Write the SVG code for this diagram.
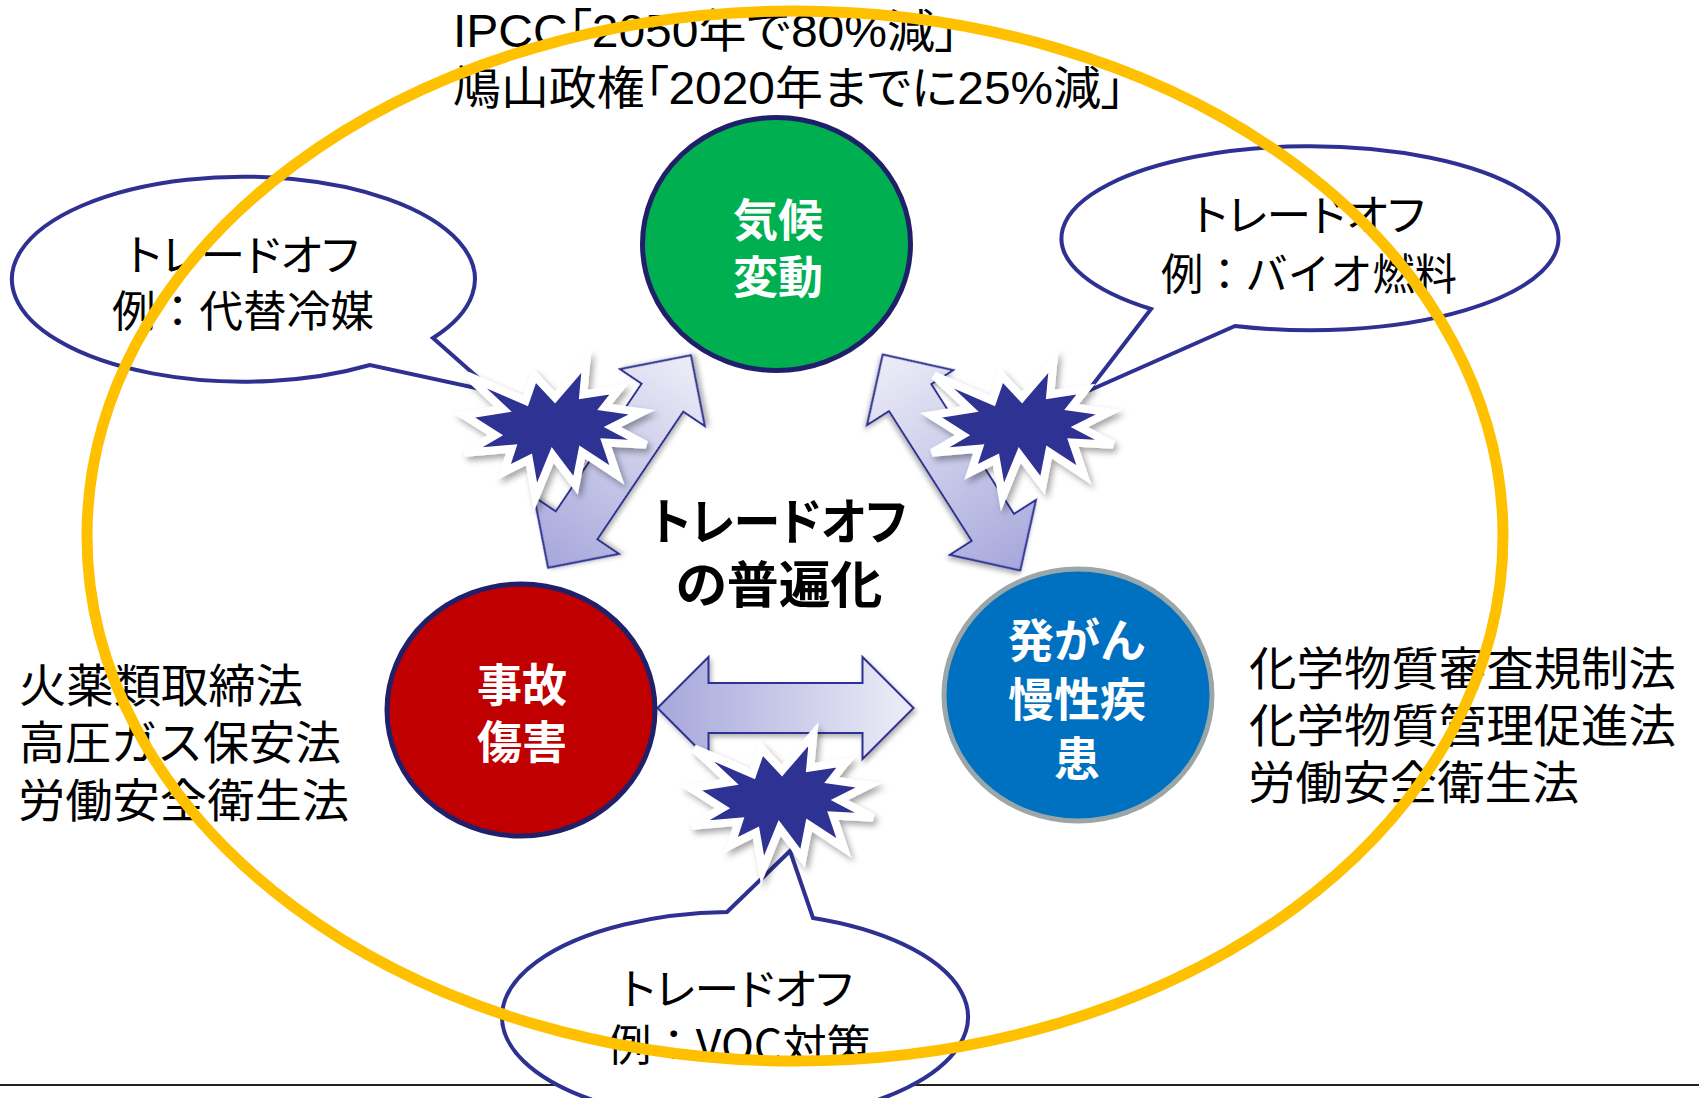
<svg xmlns="http://www.w3.org/2000/svg" xmlns:xlink="http://www.w3.org/1999/xlink" width="1699" height="1098" viewBox="0 0 1699 1098">
<style>
.t{font-family:"Noto Sans CJK JP","Liberation Sans",sans-serif;fill:#000}
.lat{font-family:"Liberation Sans","Noto Sans CJK JP",sans-serif;fill:#000}
.p{font-feature-settings:"palt" 1}
.w{fill:#fff;font-weight:700;text-anchor:middle}
.m{text-anchor:middle}
.bub{fill:#fff;stroke:#2E3192;stroke-width:4;stroke-linejoin:miter}
.arr{stroke:#2E3192;stroke-width:2;filter:url(#sh)}
.burst{fill:#2E3192;stroke:#fff;stroke-width:8;filter:url(#sh2)}
</style>
<defs>
<filter id="sh" x="-20%" y="-20%" width="140%" height="140%"><feDropShadow dx="2" dy="3" stdDeviation="2.5" flood-color="#000" flood-opacity="0.3"/></filter>
<filter id="sh2" x="-20%" y="-20%" width="140%" height="140%"><feDropShadow dx="3" dy="4" stdDeviation="3" flood-color="#000" flood-opacity="0.35"/></filter>
<linearGradient id="gA" x1="0" y1="0" x2="1" y2="0"><stop offset="0" stop-color="#A6A7DB"/><stop offset="1" stop-color="#EDEDF8"/></linearGradient>
<linearGradient id="gB" x1="0" y1="0" x2="1" y2="0"><stop offset="0" stop-color="#EDEDF8"/><stop offset="1" stop-color="#A6A7DB"/></linearGradient>
<path id="dbl" d="M-128,0 L-77,-51 L-77,-25 L77,-25 L77,-51 L128,0 L77,51 L77,25 L-77,25 L-77,51 Z"/>
<path id="seal" d="M91,36.5 L122.4,0 L119.3,33.5 L154.9,28.1 L140.7,46.1 L177.8,51.2 L148.4,66 L182,83.7 L141.9,81.5 L152.9,113.9 L118.1,91 L111.6,124.3 L88.7,94 L71.5,136 L65,98.4 L40.1,110.9 L47.7,87.8 L1.1,91.8 L31.4,74.1 L0,54.2 L39,48 L3.1,14.5 L61.6,39.8 L70.4,14.5 Z"/>
</defs>
<rect width="1699" height="1098" fill="#fff"/>
<g id="bottom-rule"><line x1="0" y1="1085" x2="1699" y2="1085" stroke="#222" stroke-width="2"/></g>

<g id="bubble-left">
<path class="bub" d="M433,338 L494,392 L370,365 A231.5,102.5 0 1 1 433,338 Z"/>
<text class="t m p" x="243" y="271" font-size="43" textLength="232" lengthAdjust="spacingAndGlyphs">トレードオフ</text>
<text class="t m" x="243" y="327" font-size="43" textLength="262" lengthAdjust="spacingAndGlyphs">例：代替冷媒</text>
</g>
<g id="bubble-right">
<path class="bub" d="M1151,309 L1088,391 L1235,326 A248.5,92 0 1 0 1151,309 Z"/>
<text class="t m p" x="1309" y="231" font-size="43" textLength="232" lengthAdjust="spacingAndGlyphs">トレードオフ</text>
<text class="t m" x="1309" y="290" font-size="43" textLength="296" lengthAdjust="spacingAndGlyphs">例：バイオ燃料</text>
</g>
<g id="bubble-bottom">
<path class="bub" d="M727,912 L790,851 L813,918 A233,105 0 1 1 727,912 Z"/>
<text class="t m p" x="737" y="1005" font-size="43" textLength="232" lengthAdjust="spacingAndGlyphs">トレードオフ</text>
<text class="t m" x="739" y="1061" font-size="43" textLength="264" lengthAdjust="spacingAndGlyphs">例：VOC対策</text>
</g>

<g id="connectors">
<use xlink:href="#dbl" class="arr" fill="url(#gA)" transform="translate(619.5,461.5) rotate(-56.1)"/>
<use xlink:href="#dbl" class="arr" fill="url(#gB)" transform="translate(951.5,462.5) rotate(57.5)"/>
<use xlink:href="#dbl" class="arr" fill="url(#gA)" transform="translate(785.5,708)"/>
</g>

<g id="node-climate">
<ellipse cx="776.5" cy="244" rx="134" ry="126.5" fill="#00B050" stroke="#20206A" stroke-width="5"/>
<text class="t w" x="778" y="237" font-size="45">気候</text>
<text class="t w" x="778" y="294" font-size="45">変動</text>
</g>
<g id="node-accident">
<ellipse cx="521" cy="710" rx="134" ry="126" fill="#C00000" stroke="#20206A" stroke-width="5"/>
<text class="t w" x="522" y="702" font-size="45">事故</text>
<text class="t w" x="522" y="759" font-size="45">傷害</text>
</g>
<g id="node-cancer">
<ellipse cx="1078" cy="695" rx="134" ry="126" fill="#0070C0" stroke="#9AA6A8" stroke-width="5"/>
<text class="t w" x="1077" y="657" font-size="46">発がん</text>
<text class="t w" x="1077" y="716" font-size="46">慢性疾</text>
<text class="t w" x="1077" y="775" font-size="46">患</text>
</g>

<g id="burst-left"><use xlink:href="#seal" class="burst" transform="translate(464,361)"/></g>
<g id="burst-right"><use xlink:href="#seal" class="burst" transform="translate(931,361)"/></g>
<g id="burst-bottom"><use xlink:href="#seal" class="burst" transform="translate(691,734)"/></g>

<g id="center-label">
<text class="t m p" x="779" y="540" font-size="50" font-weight="700" textLength="256" lengthAdjust="spacingAndGlyphs">トレードオフ</text>
<text class="t m p" x="779" y="603" font-size="50" font-weight="700" textLength="207" lengthAdjust="spacingAndGlyphs">の普遍化</text>
</g>

<g id="top-text">
<text class="lat p" x="453" y="47" font-size="46" textLength="506" lengthAdjust="spacingAndGlyphs">IPCC「2050年で80%減」</text>
<text class="lat p" x="453" y="104" font-size="46" textLength="672" lengthAdjust="spacingAndGlyphs">鳩山政権「2020年までに25%減」</text>
</g>

<g id="laws-left">
<text class="t" x="19" y="702" font-size="46" textLength="284" lengthAdjust="spacingAndGlyphs">火薬類取締法</text>
<text class="t" x="19" y="759" font-size="46" textLength="322" lengthAdjust="spacingAndGlyphs">高圧ガス保安法</text>
<text class="t" x="18" y="817" font-size="46" textLength="331" lengthAdjust="spacingAndGlyphs">労働安全衛生法</text>
</g>
<g id="laws-right">
<text class="t" x="1249" y="685" font-size="46" textLength="427" lengthAdjust="spacingAndGlyphs">化学物質審査規制法</text>
<text class="t" x="1249" y="742" font-size="46" textLength="427" lengthAdjust="spacingAndGlyphs">化学物質管理促進法</text>
<text class="t" x="1248" y="799" font-size="46" textLength="331" lengthAdjust="spacingAndGlyphs">労働安全衛生法</text>
</g>

<g id="scope-ellipse">
<ellipse cx="795" cy="536" rx="708" ry="525" fill="none" stroke="#FFC000" stroke-width="11"/>
</g>
</svg>
